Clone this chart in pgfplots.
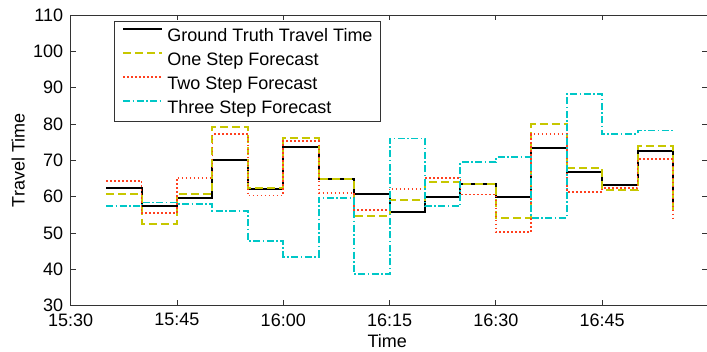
\documentclass[border=0pt]{standalone}
\usepackage{fontspec}
\setmainfont{Liberation Sans}
\usepackage{pgfplots}
\pgfplotsset{compat=1.18}

\definecolor{onestep}{rgb}{0.78,0.78,0}
\definecolor{twostep}{rgb}{1,0.25,0.12}
\definecolor{threestep}{rgb}{0,0.78,0.78}

% x values are minutes after 15:30
\begin{document}
\begin{tikzpicture}
\begin{axis}[
  scale only axis, width=637pt, height=290.7pt,
  xmin=0, xmax=89.9, ymin=30, ymax=110,
  xtick={0,15,30,45,60,75},
  xticklabels={15:30,15:45,16:00,16:15,16:30,16:45},
  ytick={30,40,...,110},
  tick align=inside, major tick length=5.5pt,
  axis line style={black!80, line width=0.9pt},
  every tick/.style={black!80, line width=0.9pt},
  /pgf/number format/assume math mode=true,
  ticklabel style={font=\fontsize{18}{18}\selectfont},
  xticklabel style={anchor=north, inner sep=0pt, yshift=-7.6pt},
  yticklabel style={anchor=east, inner sep=0pt, xshift=-7.4pt},
  xlabel={Time}, ylabel={Travel Time},
  label style={font=\fontsize{18}{18}\selectfont},
  xlabel style={at={(rel axis cs:0.497,-0.1452)}, anchor=base, inner sep=0pt},
  ylabel style={at={(rel axis cs:-0.07237,0.5)}, anchor=base, inner sep=0pt},
  legend style={at={(rel axis cs:0.0675,0.9794)}, anchor=north west,
    draw=black!80, line width=0.9pt, fill=white,
    inner xsep=8pt, inner ysep=6pt, row sep=7.9pt, column sep=4.3pt,
    font=\fontsize{18}{18}\selectfont,
    nodes={inner sep=0pt, text height=14.3pt, text depth=1.7pt}},
  legend cell align=left,
  legend image code/.code={\draw[#1] (0pt,6.3pt) -- (39pt,6.3pt);},
]
\addplot[const plot, black, line width=2pt] coordinates {
  (5,62.5) (10,57.4) (15,59.5) (20,70.0) (25,62.0) (30,73.6) (35,64.8) (40,60.8)
  (45,55.8) (50,60.0) (55,63.6) (60,60.0) (65,73.3) (70,66.8) (75,63.1) (80,72.6) (85,56.0)};
\addlegendentry{Ground Truth Travel Time}
\addplot[const plot, onestep, line width=2pt, dash pattern=on 8pt off 4pt] coordinates {
  (5,60.7) (10,52.6) (15,60.7) (20,79.2) (25,62.5) (30,76.2) (35,64.8) (40,54.7)
  (45,59.0) (50,64.1) (55,63.6) (60,54.2) (65,80.0) (70,67.8) (75,61.9) (80,74.0) (85,55.2)};
\addlegendentry{One Step Forecast}
\addplot[const plot, twostep, line width=1.8pt, dash pattern=on 1.6pt off 2.4pt] coordinates {
  (5,64.4) (10,55.4) (15,65.2) (20,77.2) (25,60.3) (30,75.3) (35,61.1) (40,56.3)
  (45,62.2) (50,65.1) (55,60.6) (60,50.3) (65,77.2) (70,61.3) (75,62.3) (80,70.3) (85,54.1)};
\addlegendentry{Two Step Forecast}
\addplot[const plot, threestep, line width=1.9pt, dash pattern=on 7pt off 2.5pt on 1.5pt off 2.5pt] coordinates {
  (5,57.4) (10,58.4) (15,58.0) (20,56.1) (25,47.9) (30,43.5) (35,59.7) (40,38.6)
  (45,76.0) (50,57.4) (55,69.5) (60,70.8) (65,54.2) (70,88.2) (75,77.2) (80,78.2) (85,78.2)};
\addlegendentry{Three Step Forecast}
\end{axis}
\pgfresetboundingbox
\useasboundingbox (-70.7pt,-46.3pt) rectangle (636.3pt,305.7pt);
\end{tikzpicture}
\end{document}
